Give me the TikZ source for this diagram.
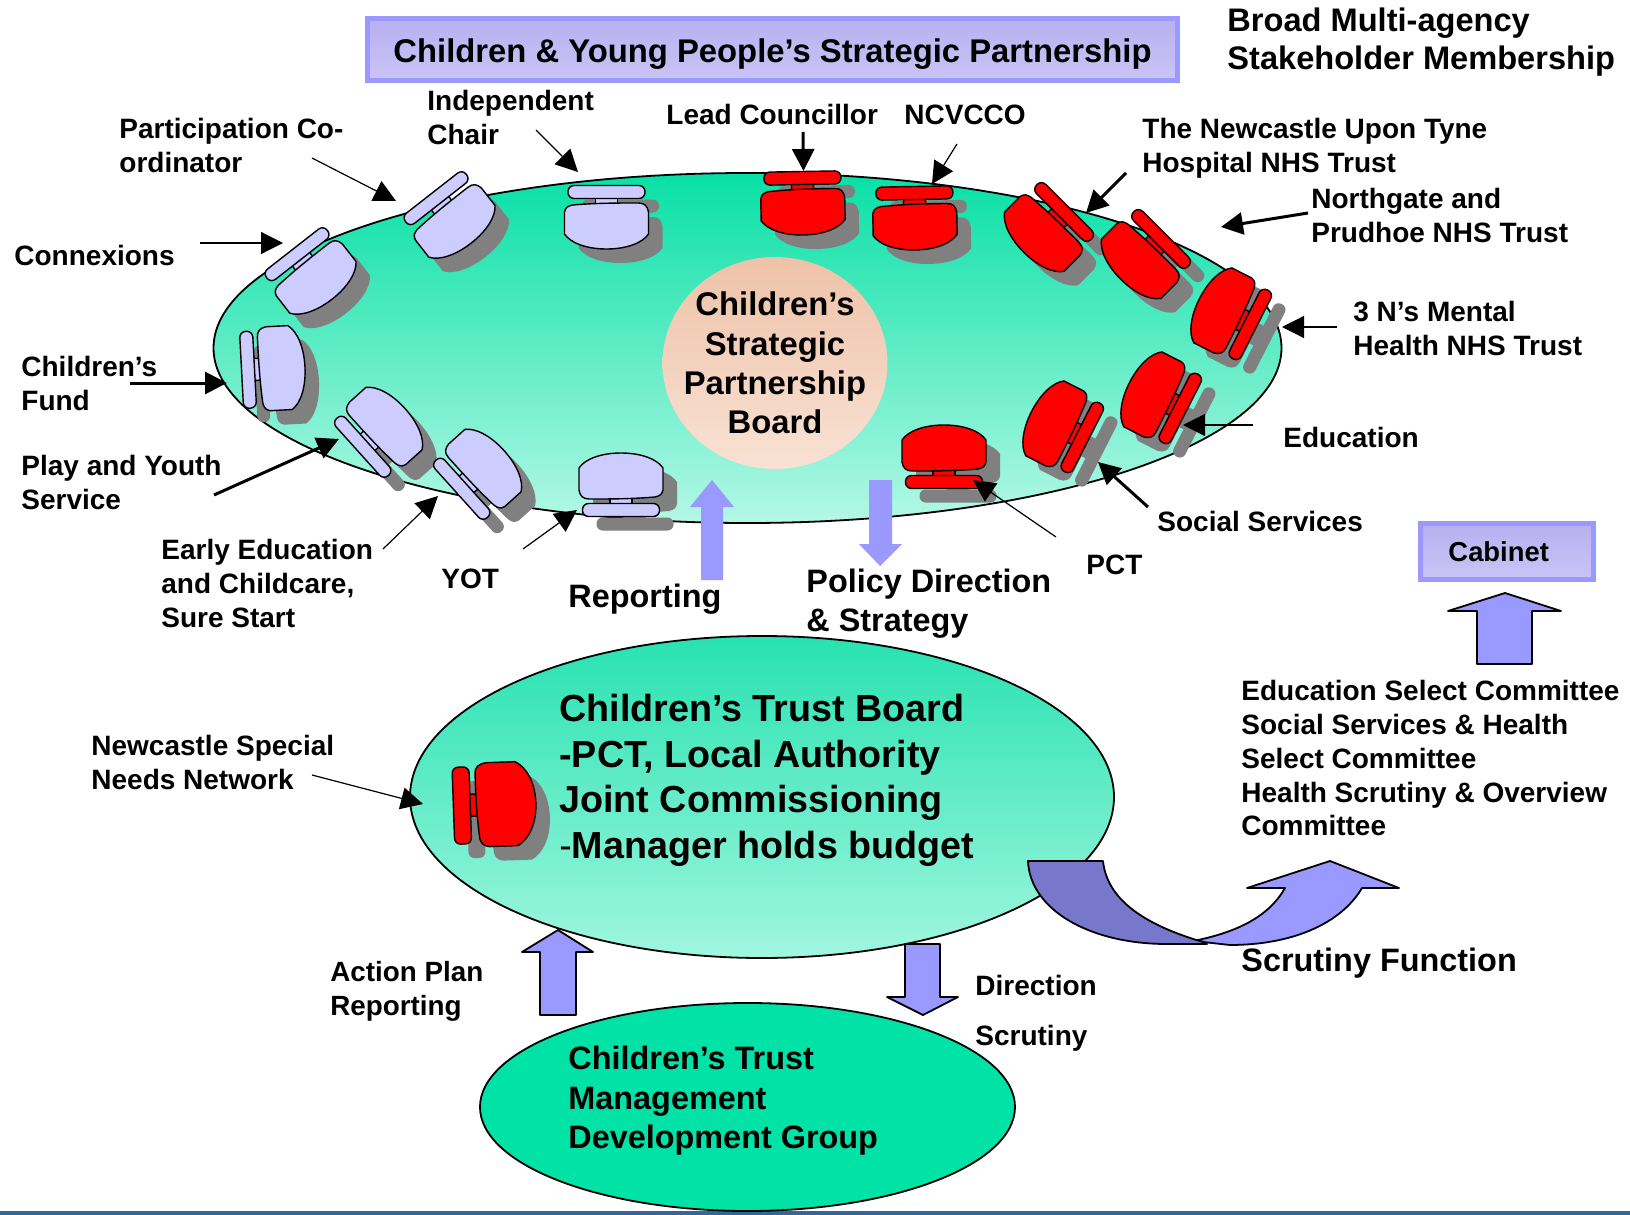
\documentclass[tikz,border=0pt]{standalone}
\usepackage{fontspec}
\setmainfont{Liberation Sans}
\usetikzlibrary{shapes.geometric,arrows.meta}
\definecolor{lilac}{HTML}{CCCCFF}
\definecolor{chairred}{HTML}{FF0000}
\definecolor{shadowgray}{HTML}{808080}
\definecolor{blockblue}{HTML}{9999FF}
\definecolor{darkblock}{HTML}{7777CC}
\definecolor{titletop}{HTML}{B8B0F0}
\definecolor{titlebot}{HTML}{CAC4F6}
\tikzset{
  chairline/.style={draw=black,line width=0.7pt},
  lbl/.style={align=left,inner sep=0pt,anchor=north west,font=\fontsize{14}{16.9}\selectfont\bfseries},
  lblb/.style={align=left,inner sep=0pt,anchor=north west,font=\fontsize{16.2}{19.4}\selectfont\bfseries},
  thin arrow/.style={line width=0.6pt,-{Triangle[length=11pt,width=11pt]}},
  thick arrow/.style={line width=1.5pt,-{Triangle[length=11pt,width=11pt]}},
  block/.style={fill=blockblue,draw=black,line width=0.9pt,line join=round},
  titlebox/.style={rectangle,draw=blockblue,line width=2.5pt,top color=titletop,bottom color=titlebot,inner sep=0pt,font=\fontsize{16.4}{19}\selectfont\bfseries},
  oval/.style={ellipse,inner sep=0pt,draw=black,line width=0.9pt}
}
\newcommand\seatpath{(-42,-14) .. controls (-41,-19) and (-38,-20) .. (-34,-21) .. controls (-10,-23) and (10,-23) .. (32,-23) .. controls (38,-23) and (41,-20) .. (42,-14) -- (42,8) .. controls (36,17) and (20,23) .. (0,23) .. controls (-20,23) and (-36,17) .. (-42,8) -- cycle}
\newcommand\barpath{[rounded corners=3pt] (-38.5,-40.5) rectangle (38.5,-27.5)}
\newcommand\linkpath{(-11,-28) rectangle (11,-20)}
% x, y, rotation, fill, depth scale
\newcommand\chairat[5]{%
  \begin{scope}[shift={(#1+14,#2+14)},rotate=#3,yscale=#5]
    \fill[shadowgray] \seatpath; \fill[shadowgray] \barpath; \fill[shadowgray] \linkpath;
  \end{scope}
  \begin{scope}[shift={(#1,#2)},rotate=#3,yscale=#5]
    \path[chairline,fill=#4] \linkpath;
    \path[chairline,fill=#4] \barpath;
    \path[chairline,fill=#4] \seatpath;
  \end{scope}}
\begin{document}
\begin{tikzpicture}[x=0.5pt,y=-0.5pt]
\useasboundingbox (0,0) rectangle (1630,1215);
\fill[white] (0,0) rectangle (1630,1215);
\fill[color={rgb,255:red,51;green,102;blue,153}] (0,1211) rectangle (1630,1215);

% main table
\node[oval,minimum width=534pt,minimum height=175pt,top color={rgb,255:red,8;green,224;blue,165},bottom color={rgb,255:red,180;green,248;blue,230}] (table) at (747.5,348) {};

% lilac chairs
\chairat{318}{281}{38}{lilac}{1}
\chairat{457}{225}{38}{lilac}{1}
\chairat{606.5}{226}{0}{lilac}{1}
\chairat{282}{368}{93}{lilac}{1}
\chairat{388}{424}{132}{lilac}{1}
\chairat{487}{466}{132}{lilac}{1}
\chairat{621}{476}{180}{lilac}{1}
% red chairs
\chairat{803}{212}{1}{chairred}{1}
\chairat{915}{227}{1}{chairred}{1}
\chairat{1040}{236}{-45}{chairred}{1}
\chairat{1137}{263}{-45}{chairred}{1}
\chairat{1220}{309}{-117}{chairred}{1}
\chairat{1150}{393}{-117}{chairred}{1}
\chairat{1052}{422}{-117}{chairred}{1}
\chairat{944}{448}{180}{chairred}{1}

% board circle
\node[ellipse,inner sep=0pt,minimum width=112.5pt,minimum height=106pt,top color={rgb,255:red,238;green,194;blue,168},bottom color={rgb,255:red,248;green,226;blue,212}] (board) at (775,363) {};
\node[inner sep=0pt,align=center,font=\fontsize{16.4}{19.7}\selectfont\bfseries] (boardtext) at (board.center) {Children’s\\Strategic\\Partnership\\Board};

% trust board
\node[oval,minimum width=352pt,minimum height=161pt,top color={rgb,255:red,40;green,226;blue,176},bottom color={rgb,255:red,160;green,246;blue,224}] (trust) at (762,797) {};
\chairat{506}{804}{92}{chairred}{1.3}

% group
\node[oval,minimum width=267.5pt,minimum height=104pt,fill={rgb,255:red,0;green,226;blue,166}] (group) at (747.5,1107) {};

% title boxes
\node[titlebox,minimum width=405pt,minimum height=31pt,text height=16pt,text depth=3.5pt] (title) at (772.5,49.5) {Children \& Young People’s Strategic Partnership};
\node[titlebox,minimum width=86.5pt,minimum height=28pt,font=\fontsize{13.7}{17}\selectfont\bfseries] (cabinet) at (1507,551.5) {Cabinet\hspace{8.3pt}\mbox{}};

% block arrows
\fill[blockblue] (712,480) -- (734,507) -- (723,507) -- (723,580) -- (701,580) -- (701,507) -- (690,507) -- cycle;
\fill[blockblue] (869,480) -- (892,480) -- (892,544) -- (902,544) -- (880,566) -- (859,544) -- (869,544) -- cycle;
\path[block] (1505,593) -- (1561,611) -- (1532,611) -- (1532,664) -- (1477,664) -- (1477,611) -- (1448,611) -- cycle;
\path[block] (558,930) -- (593,952) -- (576,952) -- (576,1015) -- (540,1015) -- (540,952) -- (522,952) -- cycle;
\path[block] (905,944) -- (940,944) -- (940,997) -- (958,997) -- (923,1015) -- (887,997) -- (905,997) -- cycle;

% scrutiny arrow
\path[block] (1198,940) .. controls (1235,932) and (1268,918) .. (1285,888) -- (1247,888) -- (1330,861) -- (1399,888) -- (1362,888) .. controls (1340,925) and (1290,945) .. (1230,945) -- (1203,942) -- cycle;
\path[block,fill=darkblock] (1028,861) -- (1103,861) .. controls (1107,900) and (1145,925) .. (1203,942) -- (1207,944) -- (1167,944) .. controls (1090,944) and (1030,910) .. (1028,861) -- cycle;

% arrow anchors and arrows
\foreach \n/\ax/\ay/\bx/\by/\st in {
 partic/312/158/396/201/thin arrow,
 indep/536/130/578/172/thin arrow,
 connex/200/243/283/243/thin arrow,
 fund/130/383/227/383/thick arrow,
 play/214/495/339/439/thick arrow,
 early/383/549/438/496/thin arrow,
 yot/523/549/577/510/thin arrow,
 lead/803/132/803.5/171/thick arrow,
 ncv/957/144/932/184/thin arrow,
 hosp/1126/173/1086/213/thick arrow,
 north/1308/213/1221/227/thick arrow,
 threen/1337/327/1282/327/thin arrow,
 educ/1252.5/425/1183/425/thin arrow,
 social/1148/507/1098/462/thick arrow,
 pct/1056/537/973/480/thin arrow,
 special/312/775/423/804/thin arrow}
 {\coordinate (\n-a) at (\ax,\ay); \coordinate (\n-b) at (\bx,\by); \draw[\st] (\n-a) -- (\n-b);}

% labels
\node[lblb,font=\fontsize{16.3}{19.2}\selectfont\bfseries] (broad) at (1227,7) {Broad Multi-agency\\Stakeholder Membership};
\node[lbl] (lindep) at (427,90) {Independent\\Chair};
\node[lbl] (lpart) at (119,118) {Participation Co-\\ordinator};
\node[lbl] (llead) at (666,104) {Lead Councillor};
\node[lbl] (lncv) at (904,105) {NCVCCO};
\node[lbl] (lhosp) at (1142,118) {The Newcastle Upon Tyne\\Hospital NHS Trust};
\node[lbl] (lnorth) at (1311,188) {Northgate and\\Prudhoe NHS Trust};
\node[lbl] (lconn) at (14,245) {Connexions};
\node[lbl] (lthree) at (1353,301) {3 N’s Mental\\Health NHS Trust};
\node[lbl] (lfund) at (21,356) {Children’s\\Fund};
\node[lbl] (lplay) at (21,455) {Play and Youth\\Service};
\node[lbl] (ledu) at (1283,427) {Education};
\node[lbl] (learly) at (161,539) {Early Education\\and Childcare,\\Sure Start};
\node[lbl] (lyot) at (441,569) {YOT};
\node[lbl] (lsoc) at (1157,511) {Social Services};
\node[lbl] (lpct) at (1086,555) {PCT};
\node[lblb] (lrep) at (568,584) {Reporting};
\node[lblb] (lpol) at (806,569) {Policy Direction\\\& Strategy};
\node[lbl] (lspec) at (91,735) {Newcastle Special\\Needs Network};
\node[lblb,font=\fontsize{18.85}{22.8}\selectfont\bfseries] (ltrust) at (559,694) {Children’s Trust Board\\-PCT, Local Authority\\Joint Commissioning\\{\mdseries -}Manager holds budget};
\node[lbl] (lcomm) at (1241,680) {Education Select Committee\\Social Services \& Health\\Select Committee\\Health Scrutiny \& Overview\\Committee};
\node[lblb] (lscr) at (1241,948) {Scrutiny Function};
\node[lblb,font=\fontsize{13.9}{16.9}\selectfont\bfseries] (lact) at (330,961) {Action Plan\\Reporting};
\node[lbl] (ldir) at (975,975) {Direction};
\node[lbl] (lscru) at (975,1025) {Scrutiny};
\node[lblb,font=\fontsize{16.2}{19.7}\selectfont\bfseries] (lmgmt) at (568,1046) {Children’s Trust\\Management\\Development Group};
\end{tikzpicture}
\end{document}
